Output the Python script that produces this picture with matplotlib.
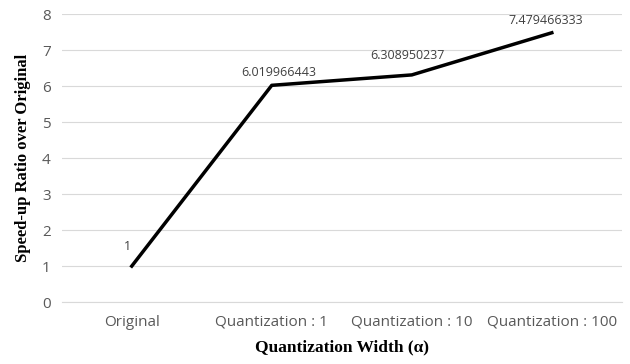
import matplotlib.pyplot as plt

categories = ['Original', 'Quantization : 1', 'Quantization : 10', 'Quantization : 100']
speedup = [1, 6.019966443, 6.308950237, 7.479466333]
labels = ['1', '6.019966443', '6.308950237', '7.479466333']

fig = plt.figure(figsize=(6.3, 3.64), dpi=100)
ax = fig.add_axes([0.098, 0.170, 0.889, 0.7915])

x = list(range(len(categories)))
ax.plot(x, speedup, color='black', linewidth=2.5, solid_joinstyle='round')

# data labels, offsets (points) from the data point to the label centre
offsets = [(-3, 14.4), (5, 9.4), (-3, 13.7), (-4.3, 8.6)]
for xi, yi, lab, off in zip(x, speedup, labels, offsets):
    ax.annotate(lab, (xi, yi), xytext=off, textcoords='offset points',
                ha='center', va='center', fontsize=9, color='#404040',
                family='Open Sans')

ax.set_xlim(-0.5, 3.5)
ax.set_ylim(0, 8)
ax.set_yticks(range(0, 9))
ax.set_xticks(x)
ax.set_xticklabels(categories)
ax.grid(axis='y', color='#d9d9d9', linewidth=0.8)
ax.set_axisbelow(True)
for s in ['top', 'right', 'left']:
    ax.spines[s].set_visible(False)
ax.spines['bottom'].set_color('#d9d9d9')
ax.tick_params(axis='x', length=0, labelsize=11, labelcolor='#595959', pad=9)
ax.tick_params(axis='y', length=0, labelsize=11, labelcolor='#595959', pad=8)
for t in ax.get_xticklabels() + ax.get_yticklabels():
    t.set_family('Open Sans')

ax.set_ylabel('Speed-up Ratio over Original', family='Liberation Serif',
              fontweight='bold', fontsize=12, labelpad=8)
ax.set_xlabel('Quantization Width (α)', family='Liberation Serif',
              fontweight='bold', fontsize=12.5, labelpad=7)

fig.savefig('out.png', dpi=100)
